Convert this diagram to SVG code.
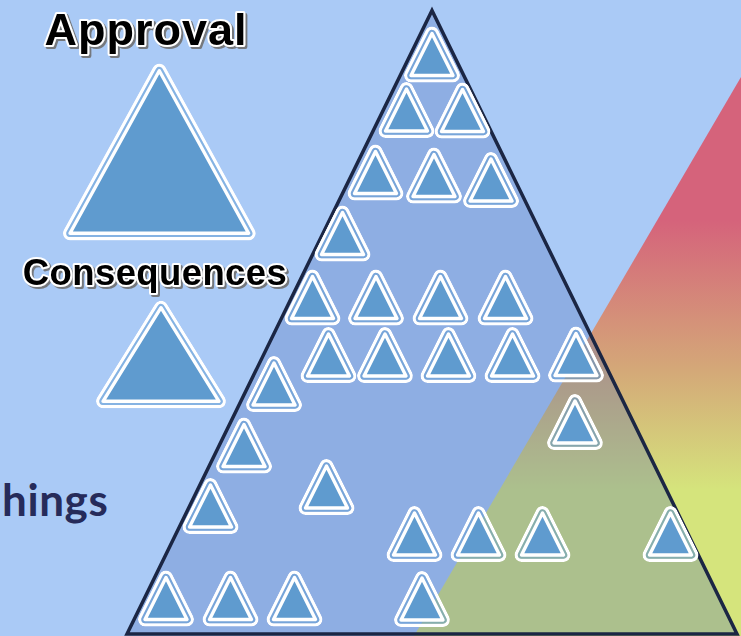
<svg xmlns="http://www.w3.org/2000/svg" xmlns:xlink="http://www.w3.org/1999/xlink" width="741" height="636" viewBox="0 0 741 636">
<style>
.ow{fill:#fff;stroke:#fff;stroke-width:14;stroke-linejoin:round}
.gap{fill:none;stroke:#5f9bcf;stroke-opacity:.5;stroke-width:7.4;stroke-linejoin:round}
.in{fill:#5f9bcf;stroke:#fff;stroke-width:3.4;stroke-linejoin:round}
.lbl{font-family:"Liberation Sans",Arial,sans-serif;font-weight:bold;text-anchor:middle;fill:#000;stroke:#fff;stroke-width:4;stroke-linejoin:round;paint-order:stroke;filter:url(#sh)}
</style>
<defs>
<filter id="sh" x="-10%" y="-30%" width="125%" height="170%">
<feDropShadow dx="2" dy="2" stdDeviation="0.6" flood-color="#707070" flood-opacity="0.9"/>
</filter>
<linearGradient id="grad" gradientUnits="userSpaceOnUse" x1="0" y1="77" x2="0" y2="636">
<stop offset="0" stop-color="#d5637b"/>
<stop offset="0.256" stop-color="#d5637b"/>
<stop offset="0.524" stop-color="#d4a878"/>
<stop offset="0.739" stop-color="#d5e47c"/>
<stop offset="1" stop-color="#d5e47c"/>
</linearGradient>
<path id="tp" d="M0,-21 L21,21 L-21,21 Z"/>
<mask id="ms" maskUnits="userSpaceOnUse" x="-40" y="-40" width="80" height="80">
<use xlink:href="#tp" fill="#fff" stroke="#fff" stroke-width="14" stroke-linejoin="round"/>
<use xlink:href="#tp" fill="#000" stroke="#000" stroke-width="7.4" stroke-linejoin="round"/>
</mask>
<g id="t">
<use xlink:href="#tp" class="ow" mask="url(#ms)"/>
<use xlink:href="#tp" class="gap"/>
<use xlink:href="#tp" class="in"/>
</g>
<path id="bp" d="M159.3,70.7 L248.6,233.3 L70,233.3 Z"/>
<mask id="mb" maskUnits="userSpaceOnUse" x="40" y="40" width="240" height="230">
<use xlink:href="#bp" fill="#fff" stroke="#fff" stroke-width="14.8" stroke-linejoin="round"/>
<use xlink:href="#bp" fill="#000" stroke="#000" stroke-width="7.6" stroke-linejoin="round"/>
</mask>
<path id="mp" d="M161,307.7 L219,401.3 L103,401.3 Z"/>
<mask id="mm" maskUnits="userSpaceOnUse" x="80" y="280" width="170" height="150">
<use xlink:href="#mp" fill="#fff" stroke="#fff" stroke-width="14" stroke-linejoin="round"/>
<use xlink:href="#mp" fill="#000" stroke="#000" stroke-width="7.4" stroke-linejoin="round"/>
</mask>
</defs>

<rect id="background" x="0" y="0" width="741" height="636" fill="#aacaf6"/>
<polygon id="gradient-wedge" points="741,77 741,636 414,636" fill="url(#grad)"/>
<path id="pyramid" d="M432,10.5 L737,634 L127,634 Z" fill="#506db7" fill-opacity="0.3" stroke="#1b2644" stroke-width="3.5" stroke-linejoin="miter"/>

<g id="small-triangles">
<use id="s1" xlink:href="#t" transform="translate(432,54.5)"/>
<use id="s2" xlink:href="#t" transform="translate(406.5,110)"/>
<use id="s3" xlink:href="#t" transform="translate(462.5,110.5)"/>
<use id="s4" xlink:href="#t" transform="translate(375.5,172.5)"/>
<use id="s5" xlink:href="#t" transform="translate(434,175.5)"/>
<use id="s6" xlink:href="#t" transform="translate(491,180)"/>
<use id="s7" xlink:href="#t" transform="translate(342.5,233.5)"/>
<use id="s8" xlink:href="#t" transform="translate(312.5,297.5)"/>
<use id="s9" xlink:href="#t" transform="translate(376,297.5)"/>
<use id="s10" xlink:href="#t" transform="translate(440.5,297.5)"/>
<use id="s11" xlink:href="#t" transform="translate(505.5,297.5)"/>
<use id="s12" xlink:href="#t" transform="translate(328.5,355)"/>
<use id="s13" xlink:href="#t" transform="translate(385,355)"/>
<use id="s14" xlink:href="#t" transform="translate(448.5,355)"/>
<use id="s15" xlink:href="#t" transform="translate(512.5,355)"/>
<use id="s16" xlink:href="#t" transform="translate(576,354.5)"/>
<use id="s17" xlink:href="#t" transform="translate(274,384)"/>
<use id="s18" xlink:href="#t" transform="translate(575,422)"/>
<use id="s19" xlink:href="#t" transform="translate(244,445.5)"/>
<use id="s20" xlink:href="#t" transform="translate(326.5,487)"/>
<use id="s21" xlink:href="#t" transform="translate(210.5,506)"/>
<use id="s22" xlink:href="#t" transform="translate(414.5,534)"/>
<use id="s23" xlink:href="#t" transform="translate(478.5,534)"/>
<use id="s24" xlink:href="#t" transform="translate(542.5,534)"/>
<use id="s25" xlink:href="#t" transform="translate(670.5,534)"/>
<use id="s26" xlink:href="#t" transform="translate(166,598.5)"/>
<use id="s27" xlink:href="#t" transform="translate(230.5,598.5)"/>
<use id="s28" xlink:href="#t" transform="translate(294.5,598.5)"/>
<use id="s29" xlink:href="#t" transform="translate(422,599)"/>
</g>

<g id="approval">
<use xlink:href="#bp" class="ow" stroke-width="14.8" mask="url(#mb)"/>
<use xlink:href="#bp" class="gap" stroke-width="7.6"/>
<use xlink:href="#bp" class="in"/>
<text class="lbl" x="146" y="45" font-size="45" letter-spacing="1">Approval</text>
</g>

<g id="consequences">
<use xlink:href="#mp" class="ow" mask="url(#mm)"/>
<use xlink:href="#mp" class="gap"/>
<use xlink:href="#mp" class="in"/>
<text class="lbl" x="155" y="285" font-size="36.5" letter-spacing="0.4">Consequences</text>
</g>

<g id="things">
<text x="2" y="516" font-family="Lato,'Noto Sans',sans-serif" font-weight="bold" font-size="44" letter-spacing="0.6" fill="#262b5a">hings</text>
</g>
</svg>
